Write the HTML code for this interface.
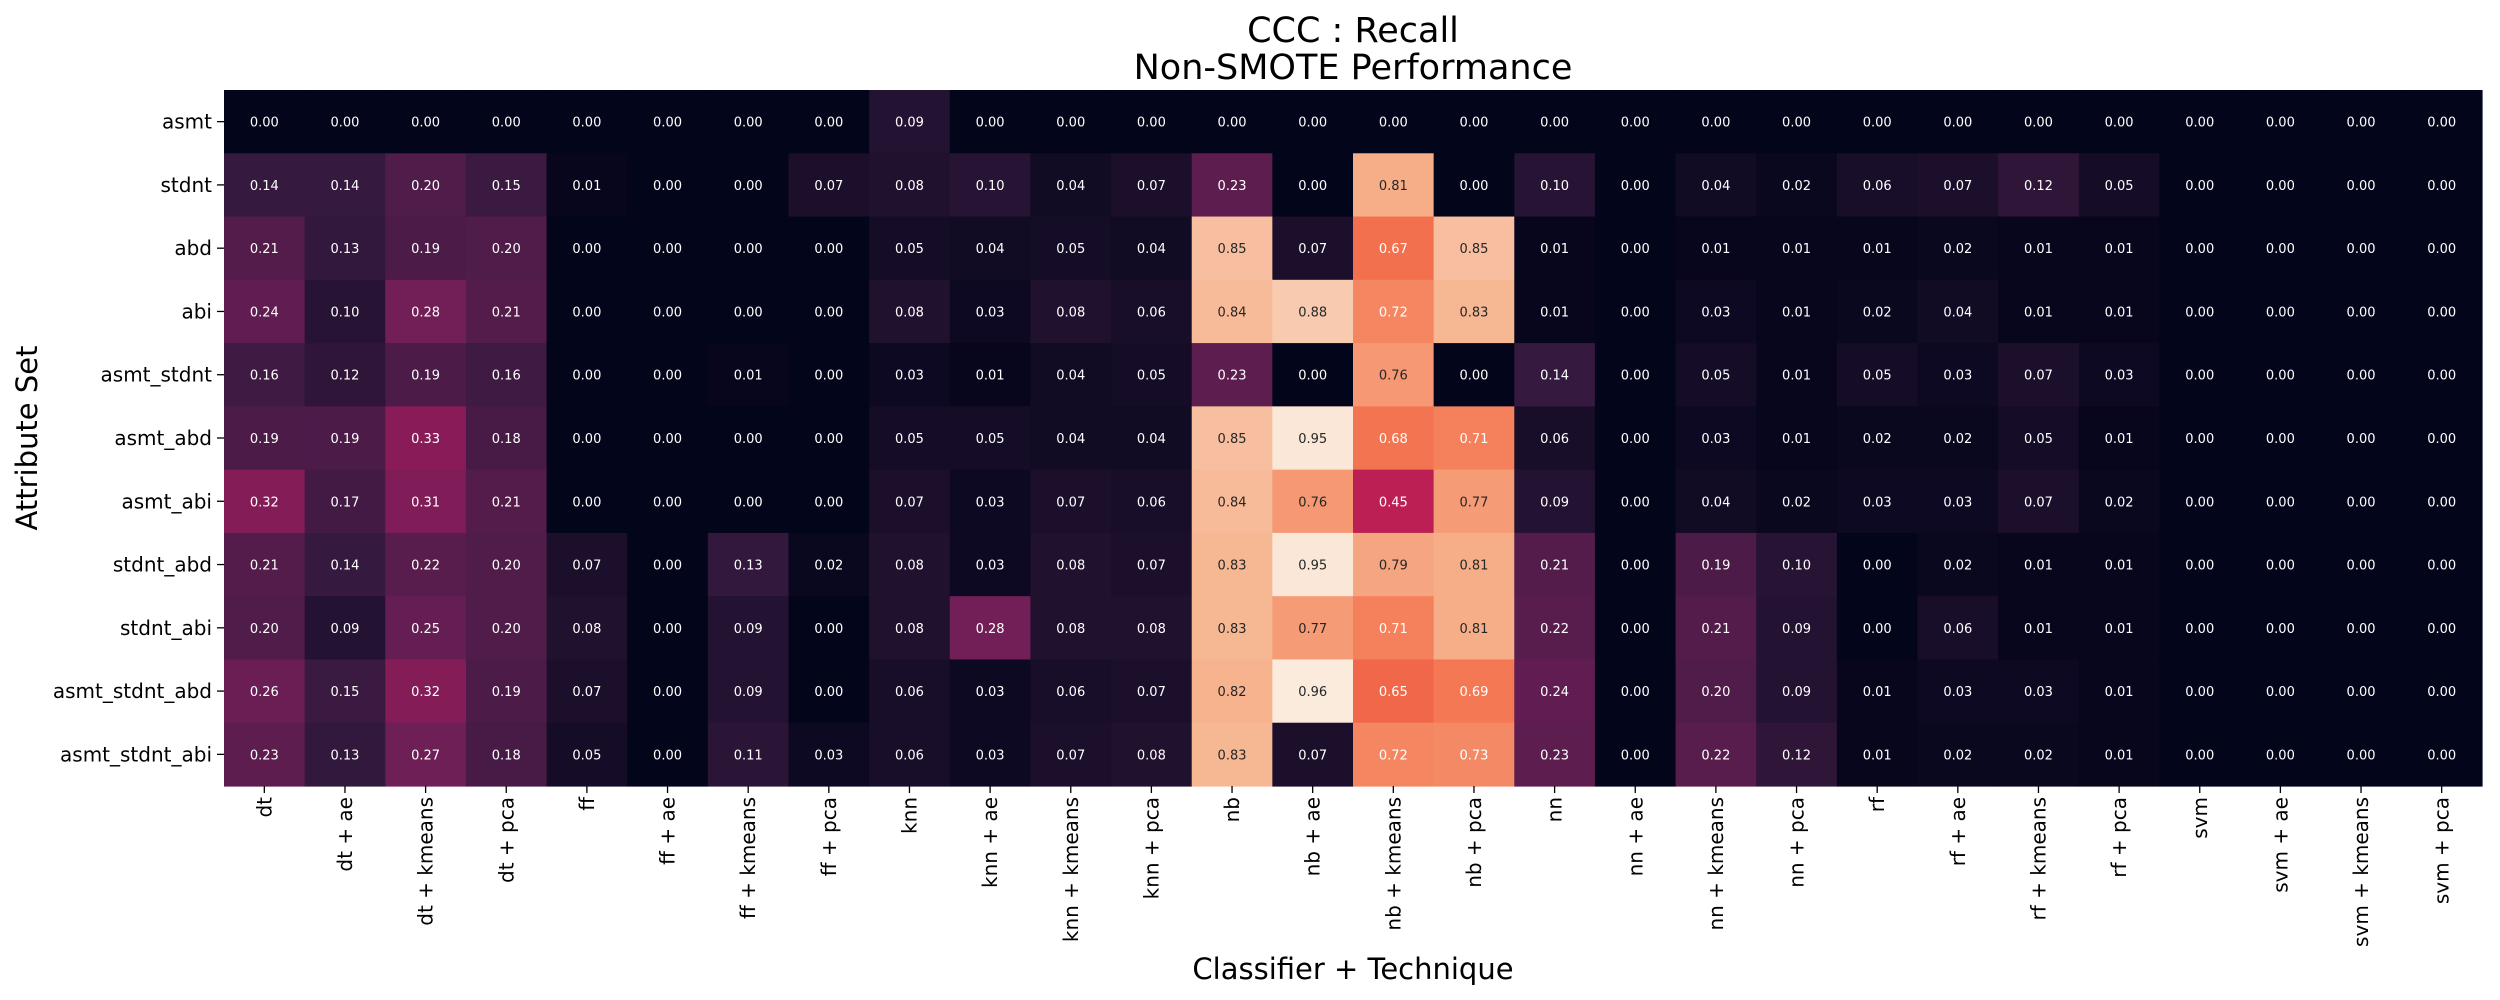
<!DOCTYPE html>
<html><head><meta charset="utf-8"><style>
html,body{margin:0;padding:0;background:#fff;}
svg{display:block;font-family:"DejaVu Sans","Liberation Sans",sans-serif;}
</style></head><body>
<svg id="chart" width="2500" height="1000" viewBox="0 0 2500 1000" xmlns="http://www.w3.org/2000/svg">
<text x="1353" y="42" font-size="35" text-anchor="middle" fill="#000">CCC : Recall</text>
<text x="1353" y="79" font-size="35" text-anchor="middle" fill="#000">Non-SMOTE Performance</text>
<text x="1353" y="979" font-size="29" text-anchor="middle" fill="#000">Classifier + Technique</text>
<text transform="translate(37,438) rotate(-90)" font-size="29" text-anchor="middle" fill="#000">Attribute Set</text>
<g id="cells"></g>
<g id="xticks"></g>
<g id="yticks"></g>
</svg>
<script>
const columns = ["dt","dt + ae","dt + kmeans","dt + pca","ff","ff + ae","ff + kmeans","ff + pca","knn","knn + ae","knn + kmeans","knn + pca","nb","nb + ae","nb + kmeans","nb + pca","nn","nn + ae","nn + kmeans","nn + pca","rf","rf + ae","rf + kmeans","rf + pca","svm","svm + ae","svm + kmeans","svm + pca"];
const rows = ["asmt","stdnt","abd","abi","asmt_stdnt","asmt_abd","asmt_abi","stdnt_abd","stdnt_abi","asmt_stdnt_abd","asmt_stdnt_abi"];
const r_asmt = [0,0,0,0, 0,0,0,0, .09,0,0,0, 0,0,0,0, 0,0,0,0, 0,0,0,0, 0,0,0,0];
const r_stdnt = [.14,.14,.20,.15, .01,0,0,.07, .08,.10,.04,.07, .23,0,.81,0, .10,0,.04,.02, .06,.07,.12,.05, 0,0,0,0];
const r_abd = [.21,.13,.19,.20, 0,0,0,0, .05,.04,.05,.04, .85,.07,.67,.85, .01,0,.01,.01, .01,.02,.01,.01, 0,0,0,0];
const r_abi = [.24,.10,.28,.21, 0,0,0,0, .08,.03,.08,.06, .84,.88,.72,.83, .01,0,.03,.01, .02,.04,.01,.01, 0,0,0,0];
const r_asmt_stdnt = [.16,.12,.19,.16, 0,0,.01,0, .03,.01,.04,.05, .23,0,.76,0, .14,0,.05,.01, .05,.03,.07,.03, 0,0,0,0];
const r_asmt_abd = [.19,.19,.33,.18, 0,0,0,0, .05,.05,.04,.04, .85,.95,.68,.71, .06,0,.03,.01, .02,.02,.05,.01, 0,0,0,0];
const r_asmt_abi = [.32,.17,.31,.21, 0,0,0,0, .07,.03,.07,.06, .84,.76,.45,.77, .09,0,.04,.02, .03,.03,.07,.02, 0,0,0,0];
const r_stdnt_abd = [.21,.14,.22,.20, .07,0,.13,.02, .08,.03,.08,.07, .83,.95,.79,.81, .21,0,.19,.10, 0,.02,.01,.01, 0,0,0,0];
const r_stdnt_abi = [.20,.09,.25,.20, .08,0,.09,0, .08,.28,.08,.08, .83,.77,.71,.81, .22,0,.21,.09, 0,.06,.01,.01, 0,0,0,0];
const r_asmt_stdnt_abd = [.26,.15,.32,.19, .07,0,.09,0, .06,.03,.06,.07, .82,.96,.65,.69, .24,0,.20,.09, .01,.03,.03,.01, 0,0,0,0];
const r_asmt_stdnt_abi = [.23,.13,.27,.18, .05,0,.11,.03, .06,.03,.07,.08, .83,.07,.72,.73, .23,0,.22,.12, .01,.02,.02,.01, 0,0,0,0];
const values = [r_asmt,r_stdnt,r_abd,r_abi,r_asmt_stdnt,r_asmt_abd,r_asmt_abi,r_stdnt_abd,r_stdnt_abi,r_asmt_stdnt_abd,r_asmt_stdnt_abi];

const NS="http://www.w3.org/2000/svg";
const L=224,R=2482,T=90,B=786;
const cw=(R-L)/columns.length, rh=(B-T)/rows.length;
const xPos=i=>L+i*cw, yPos=j=>T+j*rh;
let vmin=Infinity,vmax=-Infinity;
values.forEach(r=>r.forEach(v=>{vmin=Math.min(vmin,v);vmax=Math.max(vmax,v);}));
const stops=[[0,"#03051a"],[0.143,"#35193e"],[0.286,"#701f57"],[0.429,"#ad1759"],[0.571,"#e13342"],[0.643,"#ef5a41"],[0.714,"#f37651"],[0.857,"#f6b48f"],[1,"#faebdd"]];
const hex=h=>[1,3,5].map(k=>parseInt(h.substr(k,2),16));
function cmap(v){
  let t=(v-vmin)/(vmax-vmin||1);t=Math.max(0,Math.min(1,t));
  for(let k=1;k<stops.length;k++){if(t<=stops[k][0]){const a=hex(stops[k-1][1]),b=hex(stops[k][1]);const f=(t-stops[k-1][0])/(stops[k][0]-stops[k-1][0]);return a.map((c,i)=>Math.round(c+(b[i]-c)*f));}}
  return hex(stops[stops.length-1][1]);
}
function lum(c){const l=c.map(x=>{x/=255;return x<=0.03928?x/12.92:Math.pow((x+0.055)/1.055,2.4);});return 0.2126*l[0]+0.7152*l[1]+0.0722*l[2];}
const cells=document.getElementById('cells');
values.forEach((row,j)=>row.forEach((v,i)=>{
  const c=cmap(v);
  const r=document.createElementNS(NS,'rect');
  r.setAttribute('x',xPos(i));r.setAttribute('y',yPos(j));
  r.setAttribute('width',cw+0.6);r.setAttribute('height',rh+0.6);
  r.setAttribute('fill',`rgb(${c})`);
  
  
  cells.appendChild(r);
  const t=document.createElementNS(NS,'text');
  t.setAttribute('x',xPos(i)+cw/2);t.setAttribute('y',yPos(j)+rh/2+5);
  t.setAttribute('font-size','13');t.setAttribute('text-anchor','middle');
  t.setAttribute('fill',lum(c)>0.408?'#262626':'#ffffff');
  t.textContent=v.toFixed(2);
  
  
  cells.appendChild(t);
}));
const xt=document.getElementById('xticks');
columns.forEach((c,i)=>{
  const x=xPos(i)+cw/2;
  const ln=document.createElementNS(NS,'line');
  ln.setAttribute('x1',x);ln.setAttribute('x2',x);ln.setAttribute('y1',B);ln.setAttribute('y2',B+7);
  ln.setAttribute('stroke','#000');ln.setAttribute('stroke-width','1.3');
  
  
  xt.appendChild(ln);
  const t=document.createElementNS(NS,'text');
  t.setAttribute('transform',`translate(${x+7},${B+11}) rotate(-90)`);
  t.setAttribute('font-size','20');t.setAttribute('text-anchor','end');t.setAttribute('fill','#000');
  t.textContent=c;
  
  
  xt.appendChild(t);
});
const yt=document.getElementById('yticks');
rows.forEach((r,j)=>{
  const y=yPos(j)+rh/2;
  const ln=document.createElementNS(NS,'line');
  ln.setAttribute('x1',L-7);ln.setAttribute('x2',L);ln.setAttribute('y1',y);ln.setAttribute('y2',y);
  ln.setAttribute('stroke','#000');ln.setAttribute('stroke-width','1.3');
  
  
  yt.appendChild(ln);
  const t=document.createElementNS(NS,'text');
  t.setAttribute('x',L-12);t.setAttribute('y',y+7);
  t.setAttribute('font-size','20');t.setAttribute('text-anchor','end');t.setAttribute('fill','#000');
  t.textContent=r;
  
  
  yt.appendChild(t);
});
</script>
</body></html>
